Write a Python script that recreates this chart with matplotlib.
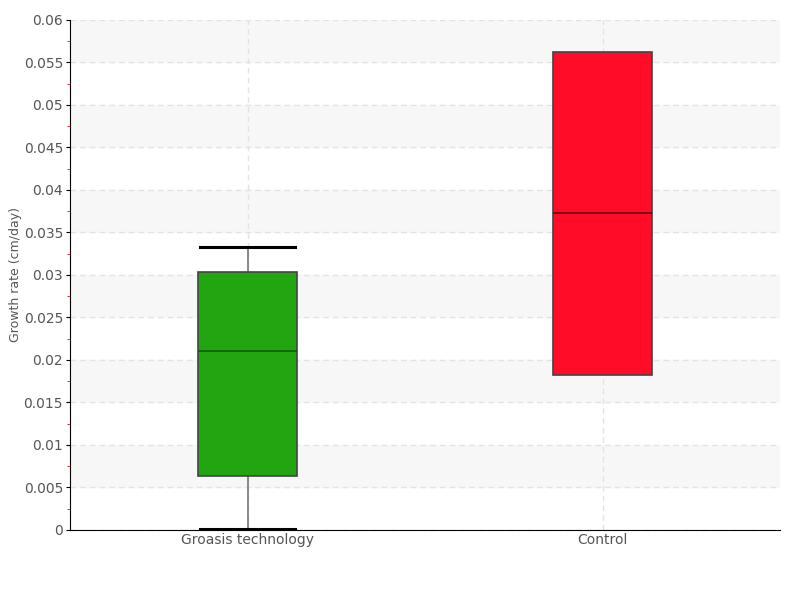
import numpy as np
import matplotlib.pyplot as plt
from matplotlib.ticker import MultipleLocator

plt.rcParams['font.family'] = ['DejaVu Sans Condensed', 'DejaVu Sans']

# box statistics
categorias = ['Groasis technology', 'Control']
whislo = [0.0001, 0.0182]
q1 = [0.0063, 0.0182]
med = [0.0211, 0.0373]
q3 = [0.0304, 0.0562]
whishi = [0.0333, 0.0562]
colores = ['#22a510', '#ff0d28']
colores_mediana = ['#105a05', '#6a0010']

stats = []
for i in range(len(categorias)):
    stats.append({'label': categorias[i], 'whislo': whislo[i], 'q1': q1[i],
                  'med': med[i], 'q3': q3[i], 'whishi': whishi[i], 'fliers': []})

fig = plt.figure(figsize=(8, 6), dpi=100)
ax = fig.add_axes([0.0875, 0.1167, 0.8875, 0.85])

# franjas alternas de fondo
for y0 in np.arange(0.005, 0.06, 0.01):
    ax.axhspan(y0, y0 + 0.005, color='#f7f7f7', zorder=0)

bp = ax.bxp(stats, positions=[1, 2], widths=0.28, capwidths=0.27, patch_artist=True,
            showfliers=False,
            whiskerprops=dict(color='#777777', linewidth=1.2),
            capprops=dict(color='black', linewidth=2.2),
            boxprops=dict(linewidth=1.2))
for i, caja in enumerate(bp['boxes']):
    caja.set_facecolor(colores[i])
    caja.set_edgecolor('#444444')
    caja.set_zorder(3)
for i, m in enumerate(bp['medians']):
    m.set_color(colores_mediana[i])
    m.set_linewidth(1.2)
    m.set_zorder(4)
# la caja Control no tiene bigotes
for j in (2, 3):
    bp['caps'][j].set_visible(False)

ax.set_xlim(0.5, 2.5)
ax.set_ylim(0, 0.06)
ax.yaxis.set_major_locator(MultipleLocator(0.005))
ax.yaxis.set_minor_locator(MultipleLocator(0.0025))
ax.set_yticklabels([('%g' % v) for v in ax.get_yticks()])

ax.grid(True, which='major', linestyle=(0, (4, 3)), color='#e3e3e3', linewidth=1, zorder=1)
ax.set_axisbelow(True)

for s in ['top', 'right']:
    ax.spines[s].set_visible(False)
ax.spines['left'].set_color('black')
ax.spines['bottom'].set_color('black')

ax.tick_params(axis='y', which='major', length=3, color='black', labelsize=10, labelcolor='#555555', pad=2)
ax.tick_params(axis='y', which='minor', length=2, color='red')
ax.tick_params(axis='x', length=0, labelsize=10, labelcolor='#555555', pad=2)

ax.set_ylabel('Growth rate (cm/day)', fontsize=9, color='#555555')
ax.yaxis.set_label_coords(-0.068, 0.5)

fig.savefig('out.png', dpi=100)
